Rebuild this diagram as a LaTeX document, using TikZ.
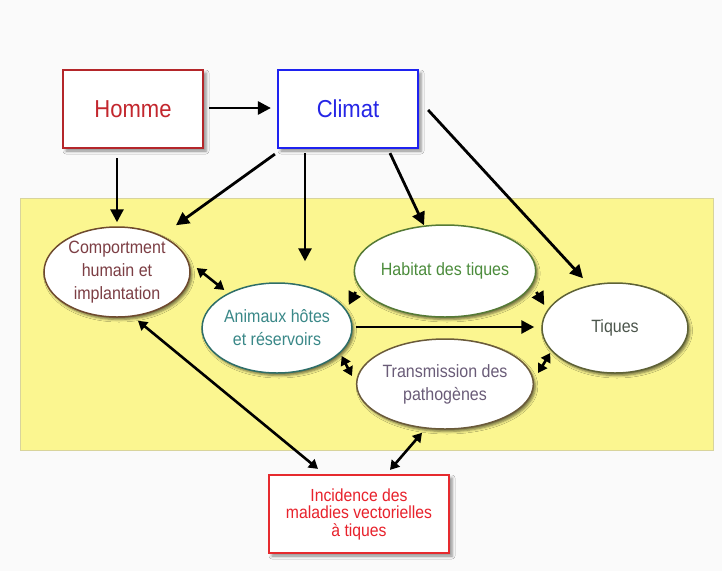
\documentclass[tikz,border=0pt]{standalone}
\usepackage{fontspec}
\setmainfont{Liberation Sans}[FakeStretch=0.9]
\usetikzlibrary{arrows.meta,shapes.geometric,shadows.blur}

\definecolor{pagebg}{HTML}{FAFAFA}
\definecolor{zonefill}{HTML}{FBF690}
\definecolor{zoneline}{HTML}{D8D49C}
\definecolor{hommeline}{HTML}{B4262A}
\definecolor{hommetext}{HTML}{C3272E}
\definecolor{climatline}{HTML}{1E22F0}
\definecolor{climattext}{HTML}{2626E6}
\definecolor{compline}{HTML}{6E4A2E}
\definecolor{comptext}{HTML}{7C3E44}
\definecolor{animline}{HTML}{2E6E68}
\definecolor{animtext}{HTML}{3A8888}
\definecolor{habline}{HTML}{557A36}
\definecolor{habtext}{HTML}{4C8C3C}
\definecolor{tiqline}{HTML}{5E6236}
\definecolor{tiqtext}{HTML}{4C564C}
\definecolor{transline}{HTML}{6A5A3A}
\definecolor{transtext}{HTML}{6A5C78}
\definecolor{incline}{HTML}{E62A2E}
\definecolor{inctext}{HTML}{E8222C}

\begin{document}
\begin{tikzpicture}[x=1pt,y=-1pt,
  topbox/.style={rectangle, minimum width=140, minimum height=78, inner sep=0,
    fill=white, line width=2.2pt,
    blur shadow={shadow xshift=3pt, shadow yshift=-3pt, shadow blur radius=3pt, shadow opacity=45},
    font=\fontsize{24.5}{28}\selectfont},
  factor/.style={ellipse, minimum width=146, minimum height=90, inner sep=0,
    fill=white, line width=1.5pt, align=center,
    blur shadow={shadow xshift=2pt, shadow yshift=-2.5pt, shadow blur radius=2.5pt, shadow opacity=55},
    font=\fontsize{17.8}{23}\selectfont},
  arr/.style={line width=2.8pt, -{Triangle[length=13pt,width=13pt]}},
  darr/.style={line width=2.6pt, {Triangle[length=9pt,width=10.5pt]}-{Triangle[length=9pt,width=10.5pt]}}
]
% page and the yellow zone of interacting factors
\fill[pagebg] (0,0) rectangle (722,571);
\useasboundingbox (0,0) rectangle (722,571);
\filldraw[fill=zonefill, draw=zoneline, line width=0.8pt] (20,198) rectangle (713,450);

% driving factors
\node[topbox, draw=hommeline, text=hommetext] (homme) at (133,109) {Homme};
\node[topbox, draw=climatline, text=climattext] (climat) at (348,109) {Climat};

% interacting factors
\node[factor, draw=compline, text=comptext] (comp) at (117,272) {Comportment\\humain et\\implantation};
\node[factor, draw=animline, text=animtext, minimum width=147] (anim) at (277,328) {Animaux hôtes\\et réservoirs};
\node[factor, draw=habline, text=habtext, minimum width=145, minimum height=92] (hab) at (445,271) {Habitat des tiques};
\node[factor, draw=tiqline, text=tiqtext] (tiq) at (615,328) {Tiques};
\node[factor, draw=transline, text=transtext, minimum width=145] (trans) at (445,384) {Transmission des\\pathogènes};

% outcome
\node[rectangle, minimum width=180, minimum height=78, inner sep=0, fill=white,
  draw=incline, line width=2.2pt, text=inctext, align=center,
  blur shadow={shadow xshift=3pt, shadow yshift=-3pt, shadow blur radius=3pt, shadow opacity=45},
  font=\fontsize{17.5}{17.5}\selectfont] (inc) at (359,514) {Incidence des\\maladies vectorielles\\à tiques};

% influences
\draw[arr] ([shift={(5,-1)}]homme.east) -- ([shift={(-6,-1)}]climat.west);
\draw[arr] ([shift={(-16,9)}]homme.south) -- ([shift={(0,-4)}]comp.north);
\draw[arr] ([shift={(-2,5)}]climat.south west) -- ([shift={(59,-1)}]comp.north);
\draw[arr] ([shift={(-43,4)}]climat.south) -- ([shift={(28,-21)}]anim.north);
\draw[arr] ([shift={(42,4)}]climat.south) -- ([shift={(-21,1)}]hab.north);
\draw[arr] ([shift={(9,1)}]climat.east) -- ([shift={(-32,-4)}]tiq.north);
\draw[darr] ([shift={(6,-4)}]comp.east) -- ([shift={(23,-38)}]anim.west);
\draw[arr] ([shift={(2,21)}]hab.west) -- ([shift={(-4,-23)}]anim.east);
\draw[arr] ([shift={(0,21)}]hab.east) -- ([shift={(3,-23)}]tiq.west);
\draw[arr] ([shift={(3,-1)}]anim.east) -- ([shift={(-7,-1)}]tiq.west);
\draw[darr] ([shift={(-11,28)}]anim.east) -- ([shift={(-4,-8)}]trans.west);
\draw[darr] ([shift={(9,25)}]tiq.west) -- ([shift={(4,-11)}]trans.east);
\draw[darr] ([shift={(21,3)}]comp.south) -- ([shift={(-41,-5)}]inc.north);
\draw[darr] ([shift={(-23,3)}]trans.south) -- ([shift={(31,-4)}]inc.north);
\end{tikzpicture}
\end{document}
